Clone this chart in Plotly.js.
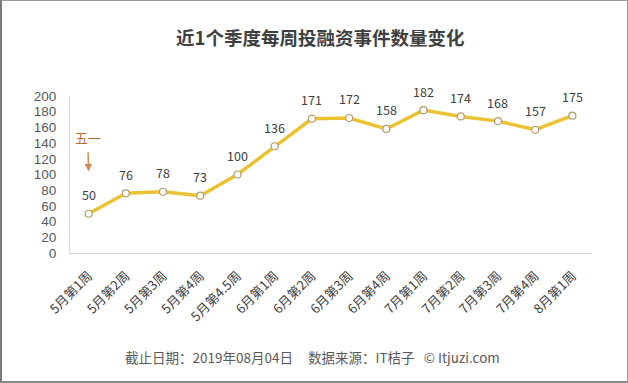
<!DOCTYPE html>
<html>
<head>
<meta charset="utf-8">
<script src="https://cdn.plot.ly/plotly-3.0.1.min.js"></script>
<style>
html,body{margin:0;padding:0;background:#fff;}
#wrap{position:relative;width:628px;height:383px;}
#chart{width:628px;height:383px;}
#frame{position:absolute;left:0;top:0;width:628px;height:383px;box-sizing:border-box;border:1px solid #9a9a9a;border-left:2px solid #7a7a7a;border-bottom:2px solid #8a8a8a;pointer-events:none;}
</style>
</head>
<body>
<div id="wrap"><div id="chart"></div><div id="frame"></div></div>
<script>
const weeks = ['5月第1周','5月第2周','5月第3周','5月第4周','5月第4.5周','6月第1周','6月第2周','6月第3周','6月第4周','7月第1周','7月第2周','7月第3周','7月第4周','8月第1周'];
const events = [50,76,78,73,100,136,171,172,158,182,174,168,157,175];
const yTicks = [0,20,40,60,80,100,120,140,160,180,200];

const font = '"Noto Sans CJK SC","Microsoft YaHei",sans-serif';
const numFont = '"Liberation Sans","DejaVu Sans",sans-serif';

const trace = {
  x: weeks, y: events, type: 'scatter', mode: 'lines+markers',
  line: {color: '#ECC233', width: 3.5},
  marker: {size: 7, color: '#ffffff', line: {color: '#B39B6C', width: 1.2}},
  cliponaxis: false, hoverinfo: 'none'
};

const labelAnns = weeks.map((w, i) => ({
  x: w, y: events[i], xref: 'x', yref: 'y', text: String(events[i]),
  showarrow: false, yshift: 19, font: {family: font, size: 12.5, color: '#404040'}
}));

const layout = {
  width: 628, height: 383,
  margin: {l: 70, r: 37, t: 96, b: 130},
  paper_bgcolor: '#ffffff', plot_bgcolor: 'rgba(0,0,0,0)',
  showlegend: false,
  title: {text: '<b>近1个季度每周投融资事件数量变化</b>', x: 0.51, xanchor: 'center', y: 0.9, yanchor: 'middle',
          font: {family: font, size: 18.5, color: '#404040'}},
  xaxis: {type: 'category', range: [-0.5, 13.5], tickangle: -45, showgrid: false, zeroline: false,
          showline: true, linecolor: '#d9d9d9', linewidth: 1, ticks: '',
          tickfont: {family: font, size: 13, color: '#404040'}, ticklabelstandoff: 9},
  yaxis: {range: [0, 200], tickvals: yTicks, showgrid: false, zeroline: false,
          showline: true, linecolor: '#d9d9d9', linewidth: 1, ticks: '',
          tickfont: {family: numFont, size: 13.5, color: '#595959'}, ticklabelstandoff: 10},
  annotations: labelAnns.concat([
    {x: weeks[0], y: 104, xref: 'x', yref: 'y', text: '五一', showarrow: true,
     ax: -1, ay: -34, arrowhead: 2, arrowsize: 1, arrowwidth: 1.5, arrowcolor: '#CF8A55', standoff: 0, startstandoff: 4,
     font: {family: font, size: 13, color: '#B86F2E'}},
    {x: 0.465, y: -0.662, xref: 'paper', yref: 'paper', showarrow: false,
     text: '截止日期：2019年08月04日&nbsp;&nbsp;&nbsp;&nbsp;&nbsp;数据来源：IT桔子&nbsp;&nbsp;&nbsp;©&nbsp;Itjuzi.com',
     font: {family: font, size: 13.5, color: '#595959'}, xanchor: 'center', yanchor: 'middle'}
  ])
};

Plotly.newPlot('chart', [trace], layout, {displayModeBar: false, staticPlot: true});
</script>
</body>
</html>
